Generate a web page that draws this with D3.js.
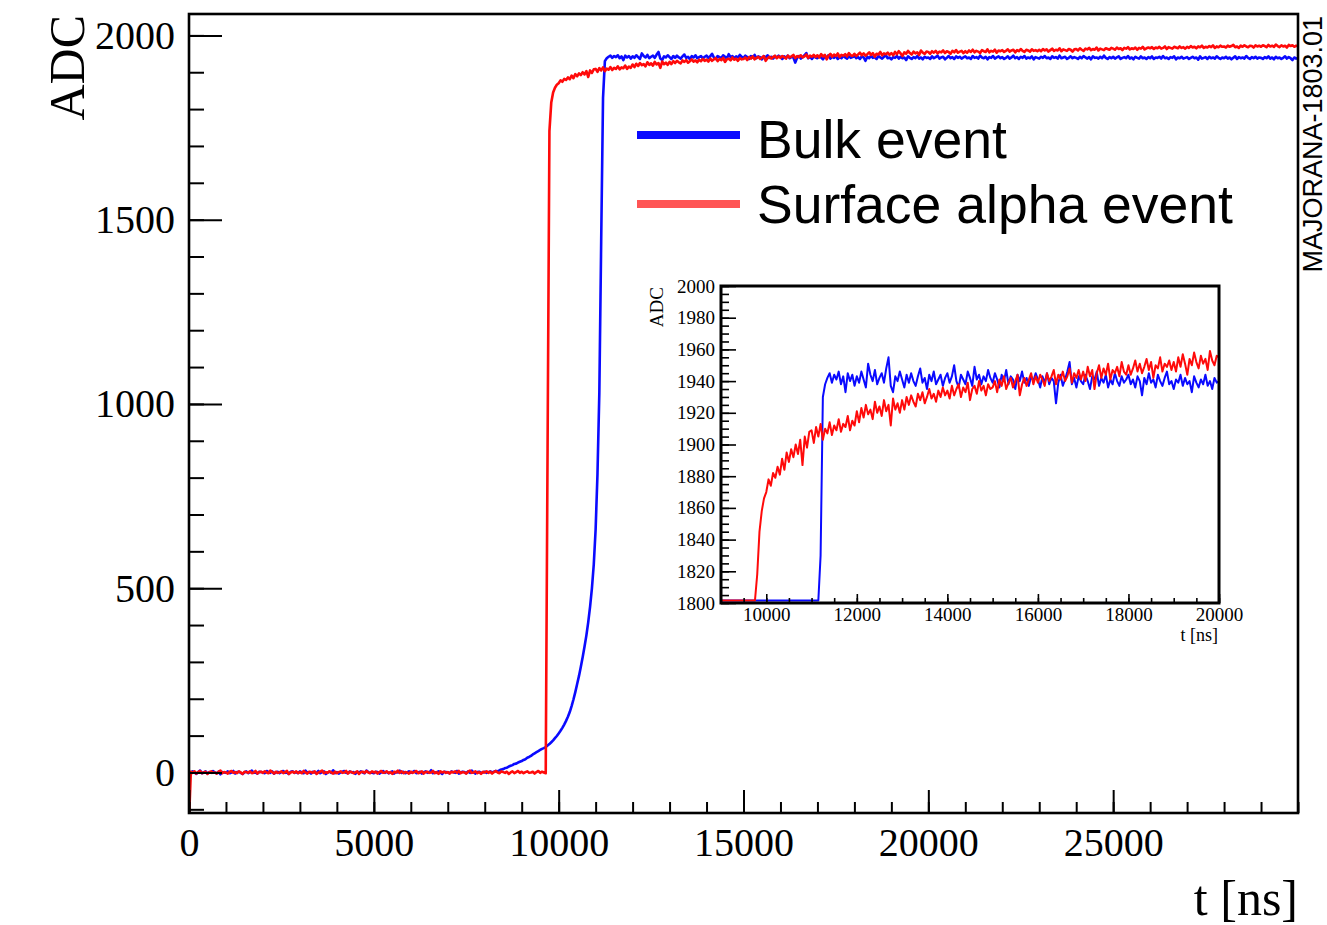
<html>
<head>
<meta charset="utf-8">
<title>Bulk vs surface alpha waveform</title>
<style>
 body{margin:0;background:#fff;}
 text{font-family:'Liberation Serif','Times New Roman',serif;fill:#000;}
 .sans{font-family:'Liberation Sans',Arial,Helvetica,sans-serif;}
</style>
<script src="https://cdnjs.cloudflare.com/ajax/libs/d3/7.8.5/d3.min.js"></script>
</head>
<body>
<div id="plot"></div>
<script>
// one sample every 50 ns, t = 0 .. 30000 ns
var dt = 50;

var bulkAdc = [
 2,-1,3,0,-4,1,5,-2,0,3,-3,1,-1,4,0,-2,2,-5,1,0,
 -1,3,-2,0,4,-3,1,2,-1,-4,0,3,-2,1,5,-1,0,-3,2,1,
 0,-2,4,1,-1,3,-3,0,2,-2,1,4,-1,0,-4,2,3,-1,1,-2,
 3,0,-2,5,-1,1,-3,2,0,-1,4,-2,1,3,-4,0,2,-1,6,-2,
 1,-3,0,2,4,-1,-2,3,0,1,-4,2,-1,3,0,-2,5,1,-1,0,
 -2,2,1,-3,0,4,-1,2,-2,0,3,-3,1,0,5,-1,2,-2,0,3,
 -1,1,4,-2,0,2,-3,1,3,-1,0,6,-2,1,-1,3,0,-4,2,1,
 0,-2,3,1,-1,4,-3,0,2,1,-2,3,-1,5,0,-3,1,2,-1,0,
 2,-1,1,3,0,2,4,3,6,8,9,12,13,16,18,20,23,24,27,29,
 31,34,36,40,42,45,49,52,55,58,61,64,66,69,73,77,82,87,93,99,
 106,113,121,130,140,151,164,180,198,218,240,262,287,313,342,372,408,450,500,565,
 660,810,1030,1440,1830,1930,1938,1942,1945,1939,1944,1941,1946,1938,1943,1933,1945,1940,1944,1937,
 1943,1939,1946,1941,1936,1951,1944,1940,1947,1938,1942,1945,1939,1948,1955,1937,1933,1943,1940,1946,
 1941,1936,1944,1939,1945,1940,1937,1943,1948,1939,1942,1935,1944,1940,1946,1938,1941,1944,1937,1942,
 1945,1939,1943,1950,1940,1936,1944,1941,1938,1946,1942,1937,1949,1941,1944,1938,1943,1940,1947,1942,
 1939,1945,1941,1936,1944,1940,1947,1938,1943,1941,1935,1944,1940,1946,1939,1942,1937,1943,1940,1945,
 1941,1936,1943,1939,1945,1938,1942,1940,1926,1939,1944,1937,1941,1946,1952,1938,1942,1936,1943,1940,
 1938,1944,1940,1935,1943,1941,1946,1937,1942,1939,1944,1936,1941,1938,1945,1940,1937,1943,1939,1941,
 1944,1938,1941,1936,1943,1940,1931,1942,1938,1945,1939,1941,1936,1944,1940,1937,1942,1946,1938,1940,
 1935,1941,1939,1944,1937,1942,1938,1940,1933,1943,1939,1936,1941,1938,1944,1937,1940,1935,1942,1939,
 1940,1936,1943,1938,1941,1945,1937,1940,1942,1935,1939,1944,1938,1941,1936,1943,1939,1942,1937,1940,
 1943,1938,1940,1936,1944,1939,1941,1937,1945,1940,1938,1942,1935,1941,1939,1944,1937,1940,1943,1938,
 1941,1936,1939,1943,1937,1940,1945,1938,1941,1936,1942,1939,1944,1937,1940,1938,1943,1935,1941,1939,
 1937,1942,1939,1944,1938,1940,1936,1943,1939,1941,1937,1945,1938,1940,1942,1936,1939,1943,1938,1941,
 1939,1936,1942,1938,1944,1940,1937,1941,1935,1943,1939,1940,1937,1942,1938,1945,1939,1936,1941,1938,
 1942,1937,1940,1943,1936,1939,1941,1938,1944,1937,1940,1935,1942,1939,1937,1943,1938,1940,1936,1941,
 1938,1943,1936,1940,1939,1942,1937,1944,1938,1940,1936,1941,1939,1943,1935,1940,1938,1942,1937,1939,
 1941,1936,1939,1942,1938,1940,1934,1943,1937,1939,1941,1936,1942,1938,1940,1937,1943,1939,1936,1940,
 1938,1942,1937,1940,1935,1939,1943,1936,1941,1938,1940,1937,1944,1939,1936,1941,1938,1942,1937,1940,
 1939,1936,1941,1938,1943,1937,1940,1935,1942,1938,1940,1936,1939,1943,1937,1941,1938,1933,1940,1937,
 1939
];

var alphaAdc = [
 -130,2,-1,3,-3,1,4,-2,0,2,-4,1,3,-1,0,-3,2,5,-2,1,
 0,-3,2,4,-1,1,-2,3,0,-4,2,1,-1,3,-2,0,4,-3,1,2,
 -1,3,0,-2,5,1,-3,2,-1,0,3,-2,1,4,-4,0,2,-1,3,-2,
 1,-2,4,0,-3,2,1,-1,3,-4,0,2,5,-2,1,-1,3,0,-3,2,
 -2,1,3,-1,0,4,-3,2,1,-2,0,3,-4,1,2,-1,4,0,-2,3,
 0,2,-3,1,4,-1,0,3,-2,1,-4,2,0,5,-1,3,-2,1,0,-3,
 2,-1,1,4,-2,0,3,-3,1,2,-1,0,4,-2,1,-4,3,0,2,-1,
 1,-3,2,0,3,-1,4,-2,1,0,-3,2,5,-1,0,3,-2,1,-4,2,
 0,3,-1,2,-3,1,4,0,-2,3,1,-1,2,-4,0,3,-2,1,4,-1,
 2,-2,1,3,-1,0,2,-3,1,4,-1,2,0,-2,880,1740,1818,1845,1858,1866,
 1870,1878,1874,1882,1879,1886,1881,1891,1884,1895,1889,1897,1892,1900,1894,1903,1887,1905,1898,1908,
 1909,1901,1911,1905,1913,1903,1910,1907,1914,1906,1912,1909,1916,1908,1913,1911,1918,1909,1915,1912,
 1921,1914,1923,1917,1925,1919,1922,1916,1927,1920,1924,1918,1928,1921,1925,1912,1929,1922,1926,1920,
 1928,1922,1930,1925,1931,1927,1924,1932,1928,1933,1926,1930,1935,1929,1932,1927,1934,1930,1936,1931,
 1934,1929,1937,1931,1935,1938,1930,1936,1933,1939,1928,1935,1937,1932,1940,1934,1937,1931,1938,1935,
 1936,1940,1933,1941,1937,1943,1935,1939,1942,1936,1940,1944,1931,1938,1942,1937,1941,1945,1938,1943,
 1939,1944,1941,1937,1945,1940,1943,1947,1938,1944,1941,1946,1940,1943,1948,1939,1945,1942,1947,1941,
 1946,1940,1949,1943,1947,1935,1945,1950,1942,1948,1944,1951,1941,1947,1945,1949,1943,1952,1946,1944,
 1950,1944,1948,1953,1946,1951,1945,1949,1954,1947,1952,1942,1950,1948,1955,1946,1951,1949,1953,1947,
 1952,1946,1955,1949,1957,1951,1944,1954,1950,1958,1952,1948,1956,1951,1954,1947,1959,1953,1950,1956,
 1955,1950,1957,1953,1958,1951,1956,1954,1959,1952,1957,1955,1950,1958,1954,1960,1953,1956,1958,1952,
 1957,1953,1959,1955,1961,1954,1958,1956,1952,1960,1957,1955,1962,1954,1958,1956,1961,1953,1959,1957,
 1960,1955,1958,1962,1956,1959,1961,1954,1960,1957,1963,1958,1955,1961,1959,1956,1962,1958,1960,1957,
 1961,1957,1963,1959,1962,1956,1960,1964,1958,1961,1959,1965,1957,1962,1960,1958,1963,1961,1956,1962,
 1963,1959,1965,1961,1958,1964,1962,1966,1960,1963,1961,1967,1959,1964,1962,1960,1965,1963,1961,1966,
 1964,1961,1967,1963,1965,1960,1966,1964,1968,1962,1965,1963,1967,1961,1966,1964,1969,1962,1965,1967,
 1965,1968,1963,1967,1965,1969,1964,1966,1970,1963,1968,1966,1964,1969,1967,1965,1970,1966,1968,1964,
 1969,1966,1971,1967,1969,1965,1970,1968,1972,1966,1969,1967,1971,1968,1973,1966,1970,1968,1972,1969,
 1970,1967,1972,1969,1971,1974,1968,1970,1966,1972,1969,1973,1970,1968,1972,1971,1967,1973,1970,1972,
 1969,1973,1971,1968,1974,1970,1972,1969,1975,1971,1968,1973,1970,1972,1967,1974,1971,1973,1969,1972,
 1971
];

var seriesNames = ["Bulk event", "Surface alpha event"];
var seriesColors = ["#0a0aff", "#ff0a0a"];
var legendColors = ["#0a0aff", "#ff5555"];

var xTicks = [0, 5000, 10000, 15000, 20000, 25000];
var yTicks = [0, 500, 1000, 1500, 2000];
var insetXTicks = [10000, 12000, 14000, 16000, 18000, 20000];
var insetYTicks = [1800, 1820, 1840, 1860, 1880, 1900, 1920, 1940, 1960, 1980, 2000];

var w = 1327, h = 925;

var bulk = bulkAdc.map(function(v, i) { return [i * dt, v]; });
var alpha = alphaAdc.map(function(v, i) { return [i * dt, v]; });
var series = [bulk, alpha];

var svg = d3.select("#plot").append("svg")
    .attr("width", w).attr("height", h);

// ---- main pad ----
var x = d3.scaleLinear().domain([0, 30000]).range([189, 1298]);
var y = d3.scaleLinear().domain([-110, 2058]).range([813, 14]);

svg.append("clipPath").attr("id", "mainclip")
  .append("rect").attr("x", 189).attr("y", 14).attr("width", 1109).attr("height", 799);

var line = d3.line().x(function(d) { return x(d[0]); }).y(function(d) { return y(d[1]); });

svg.append("g").attr("clip-path", "url(#mainclip)")
  .selectAll("path").data(series).enter().append("path")
  .attr("d", line)
  .attr("fill", "none")
  .attr("stroke", function(d, i) { return seriesColors[i]; })
  .attr("stroke-width", 2.6)
  .attr("stroke-linejoin", "round");

// axes, ROOT style ticks pointing into the frame
svg.append("g").attr("transform", "translate(0,813)")
  .call(d3.axisBottom(x).tickValues(d3.range(0, 30001, 1000)).tickSize(-11).tickFormat(""));
svg.append("g").attr("transform", "translate(0,813)")
  .call(d3.axisBottom(x).tickValues(xTicks).tickSize(-23).tickPadding(15).tickFormat(d3.format("d")));
svg.append("g").attr("transform", "translate(189,0)")
  .call(d3.axisLeft(y).tickValues(d3.range(-100, 2001, 100)).tickSize(-15).tickFormat(""));
svg.append("g").attr("transform", "translate(189,0)")
  .call(d3.axisLeft(y).tickValues(yTicks).tickSize(-33).tickPadding(14).tickFormat(d3.format("d")));

svg.selectAll(".domain").remove();
svg.selectAll(".tick line").attr("stroke", "#000").attr("stroke-width", 2);
svg.selectAll(".tick text").style("font-family", "'Liberation Serif',serif").style("font-size", "40px");

svg.append("rect").attr("x", 189).attr("y", 14).attr("width", 1109).attr("height", 799)
  .attr("fill", "none").attr("stroke", "#000").attr("stroke-width", 2.6);

svg.append("text").attr("transform", "translate(84,15) rotate(-90)")
  .attr("text-anchor", "end").style("font-size", "50px").text("ADC");
svg.append("text").attr("x", 1298).attr("y", 915)
  .attr("text-anchor", "end").style("font-size", "50px").text("t [ns]");
svg.append("text").attr("class", "sans").attr("transform", "translate(1322,16) rotate(-90)")
  .attr("text-anchor", "end").style("font-size", "27px").text("MAJORANA-1803.01");

// ---- legend ----
var lg = svg.append("g");
lg.selectAll("line").data(seriesNames).enter().append("line")
  .attr("x1", 637).attr("x2", 740)
  .attr("y1", function(d, i) { return 135 + i * 69; })
  .attr("y2", function(d, i) { return 135 + i * 69; })
  .attr("stroke", function(d, i) { return legendColors[i]; })
  .attr("stroke-width", 8);
lg.selectAll("text").data(seriesNames).enter().append("text")
  .attr("class", "sans")
  .attr("x", 757)
  .attr("y", function(d, i) { return 158 + i * 65; })
  .style("font-size", "53.5px")
  .text(function(d) { return d; });

// ---- inset pad ----
var xi = d3.scaleLinear().domain([9000, 20000]).range([721, 1219]);
var yi = d3.scaleLinear().domain([1800, 2000]).range([603, 286]).clamp(true);

var inset = svg.append("g");
inset.append("rect").attr("x", 721).attr("y", 286).attr("width", 498).attr("height", 317).attr("fill", "#fff");
inset.append("clipPath").attr("id", "insetclip")
  .append("rect").attr("x", 721).attr("y", 286).attr("width", 498).attr("height", 317);

// values below the range are drawn along the bottom edge, as ROOT does
var iline = d3.line().x(function(d) { return xi(d[0]); }).y(function(d) { return Math.min(yi(d[1]), 600.5); });

inset.append("g").attr("clip-path", "url(#insetclip)")
  .selectAll("path").data(series.map(function(s) {
    return s.filter(function(d) { return d[0] >= 9000 && d[0] <= 20000; });
  })).enter().append("path")
  .attr("d", iline)
  .attr("fill", "none")
  .attr("stroke", function(d, i) { return seriesColors[i]; })
  .attr("stroke-width", 2)
  .attr("stroke-linejoin", "round");

var ig = inset.append("g");
ig.append("g").attr("transform", "translate(0,603)")
  .call(d3.axisBottom(xi).tickValues(d3.range(9500, 20001, 500)).tickSize(-5).tickFormat(""));
ig.append("g").attr("transform", "translate(0,603)")
  .call(d3.axisBottom(xi).tickValues(insetXTicks).tickSize(-9).tickPadding(5).tickFormat(d3.format("d")));
ig.append("g").attr("transform", "translate(721,0)")
  .call(d3.axisLeft(yi).tickValues(d3.range(1800, 2001, 5)).tickSize(-8).tickFormat(""));
ig.append("g").attr("transform", "translate(721,0)")
  .call(d3.axisLeft(yi).tickValues(insetYTicks).tickSize(-15).tickPadding(6).tickFormat(d3.format("d")));

ig.selectAll(".domain").remove();
ig.selectAll(".tick line").attr("stroke", "#000").attr("stroke-width", 1.6);
ig.selectAll(".tick text").style("font-family", "'Liberation Serif',serif").style("font-size", "19px");

inset.append("rect").attr("x", 721).attr("y", 286).attr("width", 498).attr("height", 317)
  .attr("fill", "none").attr("stroke", "#000").attr("stroke-width", 3);

inset.append("text").attr("transform", "translate(663,287) rotate(-90)")
  .attr("text-anchor", "end").style("font-size", "19px").text("ADC");
inset.append("text").attr("x", 1218).attr("y", 641)
  .attr("text-anchor", "end").style("font-size", "18px").text("t [ns]");
</script>
</body>
</html>
